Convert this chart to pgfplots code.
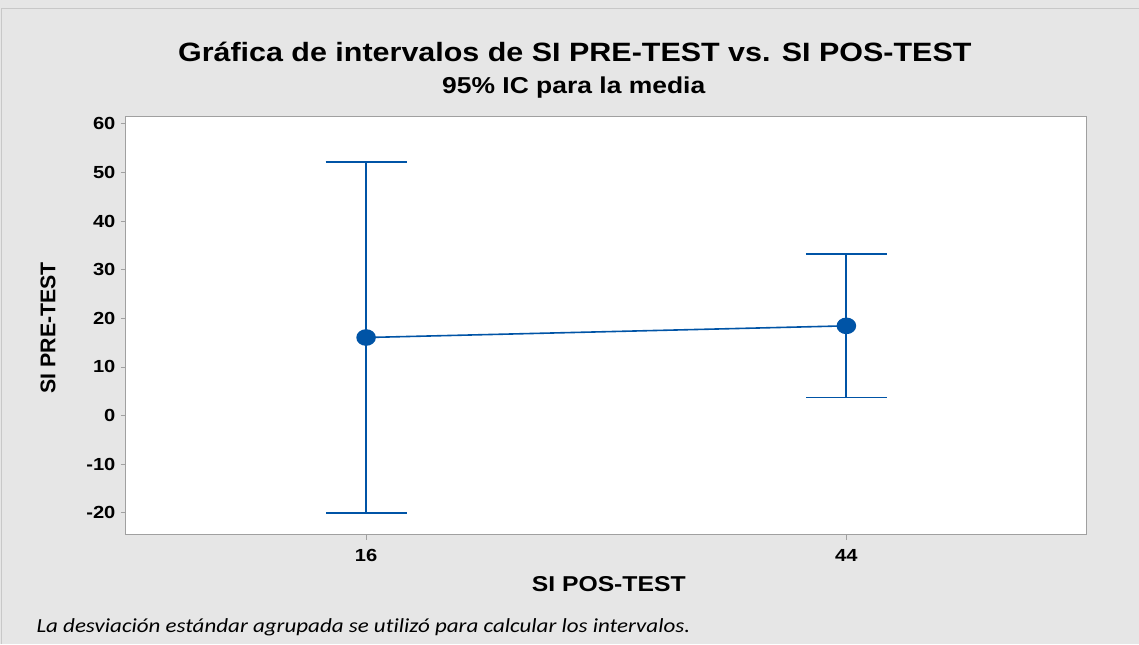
\documentclass[border=0pt]{standalone}
\usepackage{fontspec}
\setmainfont{Liberation Sans}[FakeStretch=1.15]
\newfontfamily\plainfont{Liberation Sans}
\newfontfamily\notefont{Carlito}[FakeStretch=1.15, Ligatures=NoCommon]
\usepackage{pgfplots}
\pgfplotsset{compat=1.18}
\definecolor{bgc}{HTML}{E6E6E6}
\definecolor{edgec}{HTML}{C8C8C8}
\definecolor{axc}{HTML}{A0A0A0}
\definecolor{mblue}{HTML}{0054A6}
\begin{document}
\begin{tikzpicture}[x=1pt,y=1pt]
\fill[bgc] (0,0) rectangle (1139,644);
\draw[edgec,line width=1pt] (2,0) -- (2,635) -- (1139,635);
\begin{axis}[
  at={(126pt,109pt)}, anchor=south west,
  scale only axis, width=961pt, height=418pt,
  xmin=-0.5, xmax=1.5, ymin=-24.5, ymax=61.4,
  xtick={0,1}, xticklabels={16,44},
  ytick={-20,-10,0,10,20,30,40,50,60},
  axis background/.style={fill=white},
  axis line style={axc, line width=1pt},
  tick style={axc, line width=0.8pt},
  tick align=outside, major tick length=5pt,
  xtick pos=bottom, ytick pos=left,
  tick label style={font=\bfseries\fontsize{17.5}{20}\selectfont},
  /pgf/number format/assume math mode=true,
  xticklabel style={yshift=-6pt},
  yticklabel style={xshift=-2pt},
  clip=false,
]
\addplot[mblue, line width=1.6pt, mark=*, mark size=7.5pt,
  mark options={fill=mblue, draw=mblue, xscale=1.2},
  error bars/.cd, y dir=both, y explicit,
  error bar style={mblue, line width=1.8pt},
  error mark options={mblue, line width=1.8pt, mark size=40.5pt, rotate=90}]
coordinates {
  (0,16.05) +- (0,36.15)
  (1,18.45) +- (0,14.75)
};
\end{axis}
\node[font=\bfseries\fontsize{26.5}{32}\selectfont] at (575,592) {Gráfica de intervalos de SI PRE-TEST vs. SI POS-TEST};
\node[font=\bfseries\fontsize{23}{27}\selectfont] at (574,556) {95\% IC para la media};
\node[font=\bfseries\fontsize{21.5}{26}\selectfont] at (609,60) {SI POS-TEST};
\node[font=\plainfont\bfseries\fontsize{21.3}{26}\selectfont, rotate=90] at (48,316) {SI PRE-TEST};
\node[font=\notefont\itshape\fontsize{20}{24}\selectfont, anchor=west] at (33,16) {La desviación estándar agrupada se utilizó para calcular los intervalos.};
\end{tikzpicture}
\end{document}
